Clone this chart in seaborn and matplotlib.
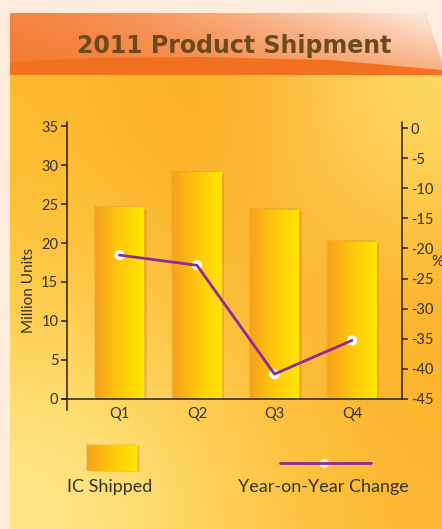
import numpy as np
import pandas as pd
import seaborn as sns
import matplotlib.pyplot as plt
import matplotlib.patheffects as pe
from matplotlib.colors import LinearSegmentedColormap, to_rgb
from matplotlib.patches import Polygon, Rectangle
from matplotlib.lines import Line2D

# data
quarters = ["Q1", "Q2", "Q3", "Q4"]
ic_shipped = [24.6, 29.1, 24.3, 20.2]        # million units (left axis)
yoy_change = [-21.1, -22.8, -40.9, -35.3]    # % (right axis)
left_ticks = [0, 5, 10, 15, 20, 25, 30, 35]
right_ticks = [0, -5, -10, -15, -20, -25, -30, -35, -40, -45]

df = pd.DataFrame({"Quarter": quarters, "IC Shipped": ic_shipped,
                   "Year-on-Year Change": yoy_change})

sns.set_style("white")
plt.rcParams["font.family"] = ["Lato", "DejaVu Sans"]
plt.rcParams["axes.unicode_minus"] = False

W, H = 442, 529
TEXT = "#333333"
PURPLE = "#8E2A98"
bar_cmap = LinearSegmentedColormap.from_list("bar", ["#F7A21C", "#FFC80C", "#FFE600"])
soft_shadow = [pe.SimplePatchShadow(offset=(2, -1), shadow_rgbFace="#9A5A00", alpha=0.18),
               pe.SimplePatchShadow(offset=(-1, 1), shadow_rgbFace="#9A5A00", alpha=0.12),
               pe.Normal()]

fig = plt.figure(figsize=(W / 100, H / 100), dpi=100)
fig.patch.set_facecolor("#FDECDB")

# background panel, drawn in pixel coordinates
bg = fig.add_axes([0, 0, 1, 1], zorder=-10)
bg.set_xlim(0, W)
bg.set_ylim(H, 0)
bg.axis("off")

grid = np.array([[to_rgb(c) for c in row] for row in [
    ["#FDBB30", "#F9A71F", "#FFDA66"],
    ["#FFCC4A", "#FDBD35", "#FBAE25"],
    ["#FFE88A", "#FFD055", "#FDB833"],
]])
bg.imshow(grid, extent=(10, W, H, 75), interpolation="bicubic", aspect="auto")

# title band with a glossy highlight
band = Polygon([(10, 13), (425, 13), (442, 62), (442, 75), (10, 75)],
               closed=True, fc="#F37021", ec="none", zorder=1)
bg.add_patch(band)
xs = np.linspace(0, 1, 256)
ys = np.linspace(0, 1, 64)
alpha = (0.15 + 0.75 * xs[None, :] ** 1.5) * (1 - 0.5 * ys[:, None])
gloss = np.ones((64, 256, 4))
gloss[..., 3] = alpha
gl = bg.imshow(gloss, extent=(10, W, 70, 13), aspect="auto", interpolation="bilinear",
               zorder=2)
gloss_shape = Polygon([(10, 13), (425, 13), (442, 62), (442, 70), (330, 60),
                       (200, 57), (90, 58), (10, 62)], closed=True,
                      transform=bg.transData)
gl.set_clip_path(gloss_shape)
bg.set_xlim(0, W)
bg.set_ylim(H, 0)

fig.text(234 / W, 1 - 46 / H, "2011 Product Shipment", ha="center", va="center",
         fontsize=17, fontweight="bold", color="#6B4A1C", family="DejaVu Sans", zorder=5)

# main chart
ax = fig.add_axes([66.7 / W, 130.3 / H, 335.6 / W, 277 / H])
ax.patch.set_alpha(0)
sns.barplot(data=df, x="Quarter", y="IC Shipped", ax=ax, width=0.63,
            color="#FFCC00", saturation=1, linewidth=0)
for p in ax.patches:
    x0, y0, w, h = p.get_x(), p.get_y(), p.get_width(), p.get_height()
    p.set_edgecolor("none")
    p.set_path_effects(soft_shadow)
    im = ax.imshow(np.linspace(0, 1, 64)[None, :], cmap=bar_cmap,
                   extent=(x0, x0 + w, y0, y0 + h), aspect="auto",
                   interpolation="bilinear", zorder=p.get_zorder() + 0.1)
    im.set_clip_path(p)

ax.set_xlim(-0.681, 3.649)
ax.set_ylim(0, 35.6)
ax.set_yticks(left_ticks)
ax.set_xlabel("")
ax.set_ylabel("")
for s in ["top", "right"]:
    ax.spines[s].set_visible(False)
for s in ["left", "bottom"]:
    ax.spines[s].set_color("#222222")
    ax.spines[s].set_linewidth(1.1)
ax.spines["left"].set_bounds(-1.5, 35.6)
ax.spines["bottom"].set_bounds(-0.74, 3.649)
ax.tick_params(axis="y", direction="out", length=4, width=1.1, color="#222222",
               labelsize=10.5, labelcolor=TEXT, pad=2, left=True)
ax.tick_params(axis="x", length=0, labelsize=10.5, labelcolor=TEXT, pad=6)

ax2 = ax.twinx()
ax2.patch.set_alpha(0)
sns.scatterplot(data=df, x="Quarter", y="Year-on-Year Change", ax=ax2, color="white",
                s=55, edgecolor="none", zorder=3)
sns.lineplot(data=df, x="Quarter", y="Year-on-Year Change", ax=ax2, color=PURPLE,
             lw=2, zorder=4)
ax2.set_ylim(-45, 1.1)
ax2.set_yticks(right_ticks)
ax2.set_xlim(-0.681, 3.649)
ax2.set_ylabel("")
for s in ["top", "left", "bottom"]:
    ax2.spines[s].set_visible(False)
ax2.spines["right"].set_color("#222222")
ax2.spines["right"].set_linewidth(1.1)
ax2.tick_params(axis="y", direction="out", length=4, width=1.1, color="#222222",
                labelsize=10.5, labelcolor=TEXT, pad=2, right=True)

fig.text(29 / W, 1 - 290 / H, "Million Units", rotation=90, ha="center", va="center",
         fontsize=11, color=TEXT)
fig.text(437 / W, 1 - 262 / H, "%", ha="center", va="center", fontsize=11, color=TEXT)

# legend, laid out like the original (handles above labels)
leg_patch = Rectangle((87, 445), 50, 26, fc="#FFCC00", ec="none", transform=bg.transData,
                      path_effects=soft_shadow, zorder=3)
bg.add_patch(leg_patch)
lim = bg.imshow(np.linspace(0, 1, 64)[None, :], cmap=bar_cmap, extent=(87, 137, 471, 445),
                aspect="auto", interpolation="bilinear", zorder=3.1)
lim.set_clip_path(leg_patch)
bg.add_line(Line2D([324], [463], marker="o", ms=6.5, mfc="white", mec="none", ls="none", zorder=4))
bg.add_line(Line2D([280, 371], [463, 463], color=PURPLE, lw=2, zorder=5))
bg.set_xlim(0, W)
bg.set_ylim(H, 0)
fig.text(110 / W, 1 - 487 / H, "IC Shipped", ha="center", va="center", fontsize=13, color=TEXT)
fig.text(323 / W, 1 - 487 / H, "Year-on-Year Change", ha="center", va="center",
         fontsize=13, color=TEXT)

fig.savefig("out.png", dpi=100, facecolor=fig.get_facecolor())
